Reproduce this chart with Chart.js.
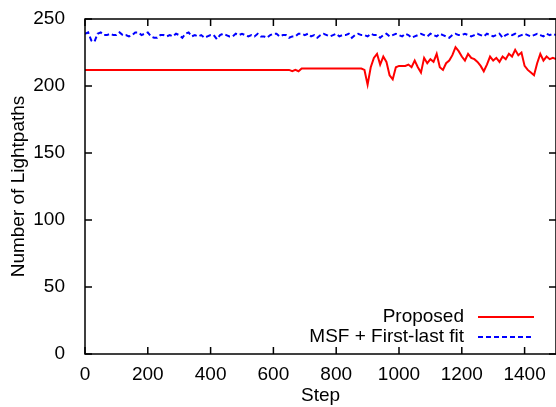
<!DOCTYPE html>
<html>
<head>
<meta charset="utf-8">
<script src="https://cdn.jsdelivr.net/npm/chart.js@4.4.1/dist/chart.umd.min.js"></script>
<style>
  html, body { margin: 0; padding: 0; background: #fff; }
  #wrap { width: 556px; height: 407px; }
</style>
</head>
<body>
<div id="wrap"><canvas id="chart" width="556" height="407"></canvas></div>
<script>
// sampled every 10 steps, 0..1500
const stepEvery = 10;

const proposed = [
  212, 212, 212, 212, 212, 212, 212, 212, 212, 212,
  212, 212, 212, 212, 212, 212, 212, 212, 212, 212,
  212, 212, 212, 212, 212, 212, 212, 212, 212, 212,
  212, 212, 212, 212, 212, 212, 212, 212, 212, 212,
  212, 212, 212, 212, 212, 212, 212, 212, 212, 212,
  212, 212, 212, 212, 212, 212, 212, 212, 212, 212,
  212, 212, 212, 212, 212, 212, 211, 212, 211, 213,
  213, 213, 213, 213, 213, 213, 213, 213, 213, 213,
  213, 213, 213, 213, 213, 213, 213, 213, 213, 212,
  201, 214, 221, 224, 216, 222, 218, 208, 205, 214,
  215, 215, 215, 216, 214, 219, 214, 210, 221, 217,
  220, 218, 224, 214, 212, 217, 219, 223, 229, 226,
  222, 219, 224, 221, 220, 218, 215, 211, 216, 222,
  219, 221, 218, 222, 220, 224, 222, 227, 223, 225,
  215, 212, 210, 208, 217, 224, 219, 222, 220, 221,
  220
];

const msfFirstLast = [
  239, 240, 234, 233, 239, 240, 238, 238, 239, 238,
  238, 240, 238, 238, 237, 238, 240, 240, 238, 239,
  240, 237, 236, 236, 238, 238, 237, 238, 237, 239,
  238, 236, 239, 240, 237, 238, 237, 238, 236, 237,
  238, 238, 235, 238, 239, 238, 237, 237, 239, 238,
  239, 238, 237, 238, 237, 239, 237, 237, 236, 238,
  239, 239, 237, 238, 238, 236, 237, 237, 239, 239,
  238, 239, 237, 238, 236, 238, 239, 238, 237, 238,
  239, 237, 238, 238, 239, 236, 238, 239, 238, 238,
  237, 239, 238, 238, 236, 238, 239, 237, 238, 239,
  238, 237, 239, 238, 236, 237, 238, 239, 238, 237,
  239, 238, 237, 239, 238, 237, 236, 238, 239, 238,
  238, 239, 238, 237, 238, 239, 238, 237, 239, 238,
  237, 238, 239, 236, 238, 239, 238, 239, 237, 238,
  239, 238, 237, 238, 239, 238, 237, 239, 238, 239,
  238
];

const seriesLabels = ["Proposed", "MSF + First-last fit"];
const xTicks = [0, 200, 400, 600, 800, 1000, 1200, 1400];
const yTicks = [0, 50, 100, 150, 200, 250];

const FONT = "'Liberation Sans', Arial, Helvetica, sans-serif";
const toPoints = (vals) => vals.map((v, i) => ({ x: i * stepEvery, y: v }));

// gnuplot-like frame: border box, inward ticks on all four sides, legend inside
const framePlugin = {
  id: "frame",
  afterDraw(chart) {
    const ctx = chart.ctx;
    const a = chart.chartArea;
    const xs = chart.scales.x, ys = chart.scales.y;
    const tl = 7;
    ctx.save();
    ctx.strokeStyle = "#000";
    ctx.lineWidth = 1.5;
    ctx.strokeRect(a.left, a.top, a.right - a.left, a.bottom - a.top);
    ctx.beginPath();
    xTicks.forEach(t => {
      const px = xs.getPixelForValue(t);
      ctx.moveTo(px, a.bottom); ctx.lineTo(px, a.bottom - tl);
      ctx.moveTo(px, a.top); ctx.lineTo(px, a.top + tl);
    });
    yTicks.forEach(t => {
      const py = ys.getPixelForValue(t);
      ctx.moveTo(a.left, py); ctx.lineTo(a.left + tl, py);
      ctx.moveTo(a.right, py); ctx.lineTo(a.right - tl, py);
    });
    ctx.stroke();

    // legend, text right aligned with the sample line to its right
    ctx.font = "19px " + FONT;
    ctx.textAlign = "right";
    ctx.textBaseline = "middle";
    chart.data.datasets.forEach((ds, i) => {
      const y = 317 + i * 20;
      ctx.fillStyle = "#000";
      ctx.fillText(ds.label, 464, y);
      ctx.strokeStyle = ds.borderColor;
      ctx.lineWidth = ds.borderWidth;
      ctx.setLineDash(ds.borderDash || []);
      ctx.beginPath();
      ctx.moveTo(478, y); ctx.lineTo(534, y);
      ctx.stroke();
    });
    ctx.restore();
  }
};

new Chart(document.getElementById("chart"), {
  type: "line",
  data: {
    datasets: [
      {
        label: seriesLabels[0],
        data: toPoints(proposed),
        borderColor: "#ff0000",
        borderWidth: 2,
        pointRadius: 0,
        tension: 0
      },
      {
        label: seriesLabels[1],
        data: toPoints(msfFirstLast),
        borderColor: "#0000ff",
        borderWidth: 2,
        borderDash: [5, 3],
        pointRadius: 0,
        tension: 0
      }
    ]
  },
  options: {
    responsive: false,
    animation: false,
    layout: { padding: { top: 19, right: -1, left: 0, bottom: 0 } },
    plugins: { legend: { display: false }, tooltip: { enabled: false } },
    scales: {
      x: {
        type: "linear",
        min: 0,
        max: 1500,
        grid: { display: false },
        border: { display: false },
        afterFit: (s) => { s.height = 53; s.paddingLeft = 0; s.paddingRight = 0; },
        afterBuildTicks: (s) => { s.ticks = xTicks.map(v => ({ value: v })); },
        ticks: { color: "#000", font: { family: FONT, size: 19 }, padding: 1, maxRotation: 0, callback: (v) => String(v) },
        title: { display: true, text: "Step", color: "#000", font: { family: FONT, size: 19 }, padding: { top: 0, bottom: 0 } }
      },
      y: {
        min: 0,
        max: 250,
        grid: { display: false },
        border: { display: false },
        afterFit: (s) => { s.width = 85; s.paddingTop = 0; s.paddingBottom = 0; },
        afterBuildTicks: (s) => { s.ticks = yTicks.map(v => ({ value: v })); },
        ticks: { color: "#000", font: { family: FONT, size: 19 }, padding: 12 },
        title: { display: true, text: "Number of Lightpaths", color: "#000", font: { family: FONT, size: 19 }, padding: { top: 7, bottom: 0 } }
      }
    }
  },
  plugins: [framePlugin]
});
</script>
</body>
</html>
